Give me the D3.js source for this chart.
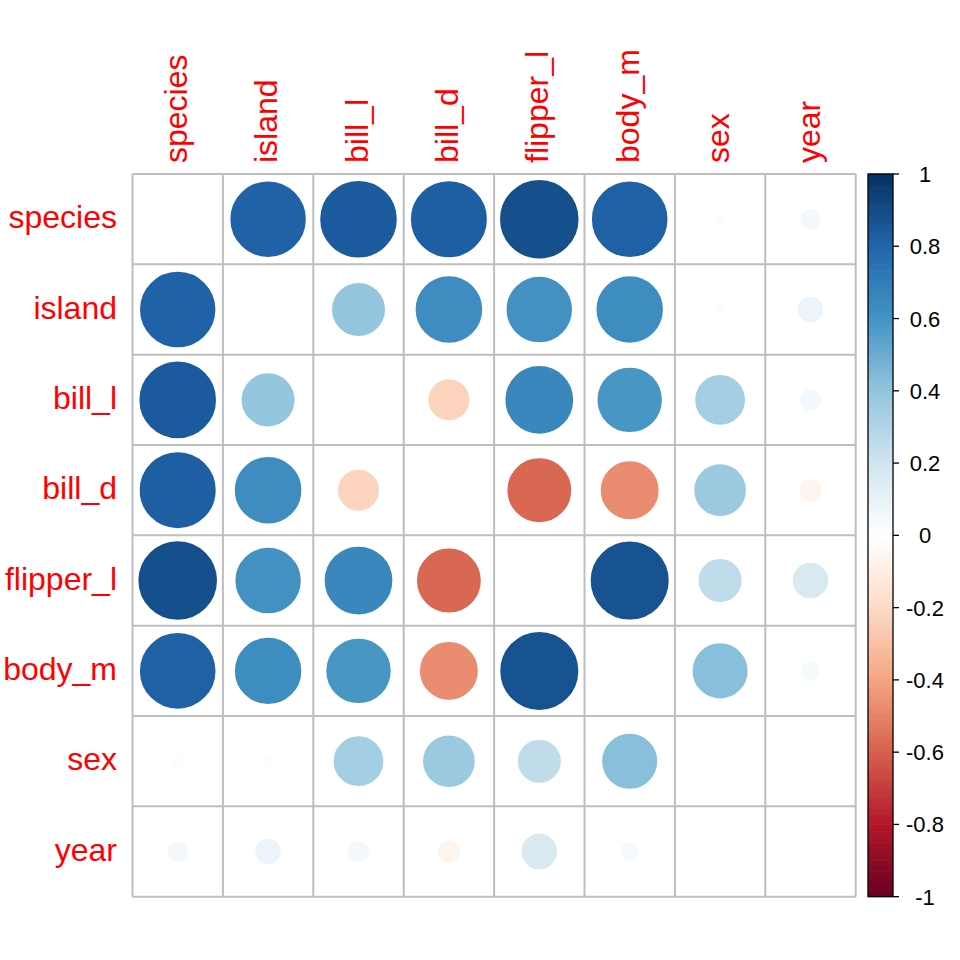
<!DOCTYPE html>
<html>
<head>
<meta charset="utf-8">
<script src="https://cdn.jsdelivr.net/npm/d3@7/dist/d3.min.js"></script>
<style>
  html, body { margin: 0; padding: 0; background: #fff; }
  svg { display: block; }
  text { font-family: "Liberation Sans", Arial, Helvetica, sans-serif; }
</style>
</head>
<body>
<svg id="chart" width="960" height="960"></svg>
<script>
// ---- data ----
const varNames = ["species", "island", "bill_l", "bill_d", "flipper_l", "body_m", "sex", "year"];
const rowSpecies  = [null, 0.814, 0.841, 0.827, 0.886, 0.818, 0.015, 0.051];
const rowIsland   = [0.814, null, 0.393, 0.630, 0.607, 0.627, 0.015, 0.083];
const rowBillL    = [0.841, 0.393, null, -0.229, 0.653, 0.589, 0.344, 0.055];
const rowBillD    = [0.827, 0.630, -0.229, null, -0.578, -0.472, 0.373, -0.060];
const rowFlipperL = [0.886, 0.607, 0.653, -0.578, null, 0.873, 0.255, 0.170];
const rowBodyM    = [0.818, 0.627, 0.589, -0.472, 0.873, null, 0.425, 0.042];
const rowSex      = [0.015, 0.015, 0.344, 0.373, 0.255, 0.425, null, 0.000];
const rowYear     = [0.051, 0.083, 0.055, -0.060, 0.170, 0.042, 0.000, null];
const corrRows = [rowSpecies, rowIsland, rowBillL, rowBillD, rowFlipperL, rowBodyM, rowSex, rowYear];
const legendTicks = [1, 0.8, 0.6, 0.4, 0.2, 0, -0.2, -0.4, -0.6, -0.8, -1];
const paletteStops = ["#67001F", "#B2182B", "#D6604D", "#F4A582", "#FDDBC7", "#FFFFFF",
                      "#D1E5F0", "#92C5DE", "#4393C3", "#2166AC", "#053061"];

// ---- layout ----
const svg = d3.select("#chart");
const gridL = 132.5, gridR = 855.7, gridT = 174, gridB = 896.7;
const x = d3.scaleBand().domain(varNames).range([gridL, gridR]);
const y = d3.scaleBand().domain(varNames).range([gridT, gridB]);
const color = d3.scaleLinear()
  .domain(d3.range(-1, 1.0001, 0.2))
  .range(paletteStops)
  .interpolate(d3.interpolateRgb);
const cell = x.bandwidth();

const cells = [];
corrRows.forEach((row, i) => row.forEach((v, j) => {
  cells.push({ r: varNames[i], c: varNames[j], v });
}));

// circles
svg.append("g").selectAll("circle")
  .data(cells.filter(d => d.v !== null && d.v !== 0))
  .join("circle")
  .attr("cx", d => x(d.c) + cell / 2)
  .attr("cy", d => y(d.r) + cell / 2)
  .attr("r", d => 0.45 * Math.sqrt(Math.abs(d.v)) * cell)
  .attr("fill", d => color(d.v))
  .attr("stroke", d => color(d.v))
  .attr("stroke-width", 2);

// grid
const grid = svg.append("g").attr("stroke", "#BEBEBE").attr("stroke-width", 2).attr("fill", "none");
const bounds = varNames.map(v => x(v)).concat([gridR]);
const boundsY = varNames.map(v => y(v)).concat([gridB]);
grid.selectAll("line.v").data(bounds).join("line").attr("class", "v")
  .attr("x1", d => d).attr("x2", d => d).attr("y1", gridT).attr("y2", gridB);
grid.selectAll("line.h").data(boundsY).join("line").attr("class", "h")
  .attr("y1", d => d).attr("y2", d => d).attr("x1", gridL).attr("x2", gridR);

// row labels
const fs = 32;
svg.append("g").selectAll("text")
  .data(varNames).join("text")
  .attr("x", 117)
  .attr("y", d => y(d) + cell / 2 + 9)
  .attr("text-anchor", "end")
  .attr("fill", "#FF0000")
  .attr("font-size", fs)
  .text(d => d);

// column labels
svg.append("g").selectAll("text")
  .data(varNames).join("text")
  .attr("transform", d => `translate(${x(d) + cell / 2 + 9},${gridT - 11}) rotate(-90)`)
  .attr("text-anchor", "start")
  .attr("fill", "#FF0000")
  .attr("font-size", fs)
  .text(d => d);

// color legend
const barL = 868, barR = 893;
const ly = d3.scaleLinear().domain([-1, 1]).range([gridB, gridT]);
const steps = d3.range(200).map(i => -1 + (i + 0.5) * 2 / 200);
svg.append("g").selectAll("rect")
  .data(steps).join("rect")
  .attr("x", barL)
  .attr("width", barR - barL)
  .attr("y", d => ly(d + 1 / 200) - 0.3)
  .attr("height", (gridB - gridT) / 200 + 0.6)
  .attr("fill", d => color(d));
svg.append("rect")
  .attr("x", barL).attr("y", gridT)
  .attr("width", barR - barL).attr("height", gridB - gridT)
  .attr("fill", "none").attr("stroke", "#000").attr("stroke-width", 1.3);
const lg = svg.append("g");
lg.selectAll("line").data(legendTicks).join("line")
  .attr("x1", barR).attr("x2", barR + 6)
  .attr("y1", d => ly(d)).attr("y2", d => ly(d))
  .attr("stroke", "#000").attr("stroke-width", 1.3);
lg.selectAll("text").data(legendTicks).join("text")
  .attr("x", 925)
  .attr("y", d => ly(d) + 8)
  .attr("text-anchor", "middle")
  .attr("font-size", 22)
  .attr("fill", "#000")
  .text(d => String(Math.round(d * 10) / 10));
</script>
</body>
</html>
